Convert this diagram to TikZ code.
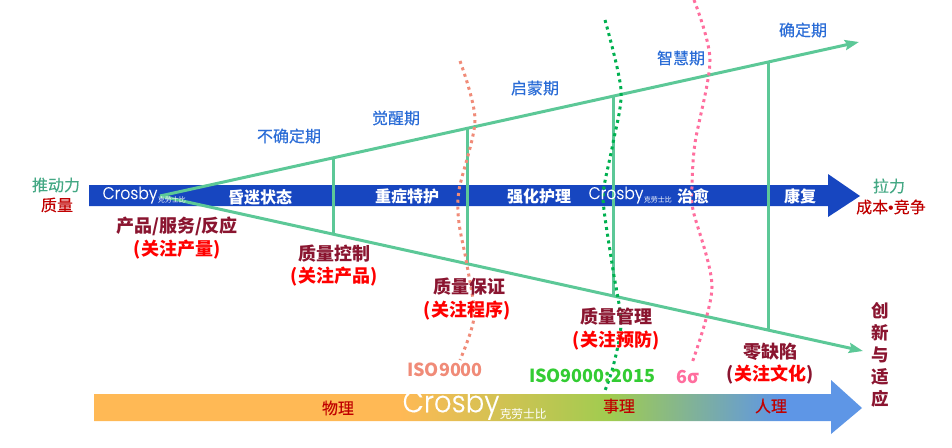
\documentclass[tikz,border=0pt]{standalone}
\usepackage{fontspec}
\setmainfont{Noto Sans CJK SC}
\newfontfamily\medfont[FakeBold=0.25]{Noto Sans CJK SC}
\newfontfamily\logofont[FakeStretch=0.92,FakeBold=0.3]{Poppins Light}
\newfontfamily\dotfont{Liberation Sans}
\usepackage{xcolor}
\usetikzlibrary{arrows.meta,positioning}
\definecolor{funnelgreen}{HTML}{5CC897}
\definecolor{barblue}{HTML}{1746C0}
\definecolor{phaseblue}{HTML}{2A6CD6}
\definecolor{stagered}{HTML}{8A1530}
\definecolor{pullgreen}{HTML}{44A884}
\definecolor{darkred}{HTML}{C00000}
\definecolor{isosalmon}{HTML}{F08B78}
\definecolor{isogreen}{HTML}{00B050}
\definecolor{isolabel}{HTML}{33CC33}
\definecolor{sigmapink}{HTML}{FF6E9E}
\definecolor{bandA}{HTML}{FFB955}
\definecolor{bandB}{HTML}{A0CC50}
\definecolor{bandC}{HTML}{5E96E6}
\pgfdeclarehorizontalshading{bandshade}{100bp}{
    color(0bp)=(bandA);
    color(44.9bp)=(bandA);
    color(58.6bp)=(bandB);
    color(69.7bp)=(bandC);
    color(100bp)=(bandC)}
\newcommand{\fs}[1]{\fontsize{#1}{#1}\selectfont}
\tikzset{
    every node/.style={inner sep=0pt, align=center},
    funnel/.style={line width=3pt, draw=funnelgreen},
    funnelarrow/.style={funnel, -{Stealth[length=14pt,width=10pt,inset=2pt]}},
    rung/.style={line width=3pt, draw=funnelgreen},
    dotline/.style={line width=3pt, dash pattern=on 3pt off 3.8pt},
    phase/.style={font=\medfont\fs{16}, text=phaseblue},
    bartext/.style={font=\fs{16}\bfseries, text=white},
    logo/.style={font=\logofont\fs{17}, text=white},
    logosub/.style={font=\fs{7}, text=white},
    stage/.style={font=\fs{18}\bfseries, text=stagered},
    focus/.style={font=\fs{18}\bfseries, text=red, yshift=-1.5pt},
    bandtext/.style={font=\medfont\fs{16}, text=darkred},
    iso/.style={font=\fs{18}\bfseries, yshift=-1pt},
}
\begin{document}
\begin{tikzpicture}[x=1pt,y=-1pt]
    \useasboundingbox (0,0) rectangle (952,447);
    % Bars
    \fill[barblue] (89,185) -- (828,185) -- (828,174) -- (860,196) -- (828,217) -- (828,206) -- (89,206) -- cycle;
    \shade[shading=bandshade] (94,394) -- (831,394) -- (831,380) -- (862,408) -- (831,434) -- (831,421) -- (94,421) -- cycle;
    % Funnel
    \coordinate (root) at (160,196);
    \coordinate (uptip) at (859,42);
    \coordinate (downtip) at (863,351);
    \coordinate (upa) at (333,157.5);
    \coordinate (upb) at (467,127.5);
    \coordinate (upc) at (613,96);
    \coordinate (upd) at (768,61.5);
    \coordinate (downa) at (333,234);
    \coordinate (downb) at (467,264);
    \coordinate (downc) at (613,296);
    \coordinate (downd) at (768,330);
    \draw[funnelarrow] (root) -- (uptip);
    \draw[funnelarrow] (root) -- (downtip);
    \foreach \rungname in {a,b,c,d}
        \draw[rung] (up\rungname) -- (down\rungname);
    % Dotted curves
    \draw[dotline, isosalmon] plot[smooth] coordinates {(460,61) (475,120) (459,190) (459,223) (467,265) (474,317) (460,360)};
    \draw[dotline, isogreen] plot[smooth] coordinates {(605,20) (621,90) (613,143) (604,187) (604,210) (613,270) (621,323) (613,367) (604,393)};
    \draw[dotline, sigmapink] plot[smooth] coordinates {(694,0) (710,60) (695,143) (692,187) (693,210) (712,287) (692,363)};
    % Side labels
    \node[font=\medfont\fs{16}, text=pullgreen] (pushlabel) at (56,185) {推动力};
    \node[font=\medfont\fs{16}, text=darkred] (qualitylabel) at (57,205) {质量};
    \node[font=\medfont\fs{16}, text=pullgreen] (pulllabel) at (889,186) {拉力};
    \node[font=\medfont\fs{16}, text=darkred] (costlabel) at (891,207) {成本{\dotfont •}竞争};
    \node[stage, font=\fontsize{17.5}{22}\selectfont\bfseries] (innovlabel) at (880,355) {创\\新\\与\\适\\应};
    % Phases
    \node[phase] (phasea) at (289,136) {不确定期};
    \node[phase] (phaseb) at (396,118) {觉醒期};
    \node[phase] (phasec) at (535,88) {启蒙期};
    \node[phase] (phased) at (681,58) {智慧期};
    \node[phase] (phasee) at (803,30) {确定期};
    % Bar texts
    \node[logo] (logoa) at (130,195) {Crosby};
    \node[logosub, right=0pt of logoa.east, yshift=-5pt] (logosuba) {克劳士比};
    \node[bartext] (bara) at (260,197) {昏迷状态};
    \node[bartext] (barb) at (407,196) {重症特护};
    \node[bartext] (barc) at (539,196) {强化护理};
    \node[logo] (logob) at (616,195) {Crosby};
    \node[logosub, right=0pt of logob.east, yshift=-5pt] (logosubb) {克劳士比};
    \node[bartext] (bard) at (693,196) {治愈};
    \node[bartext] (bare) at (800,196) {康复};
    % Stages
    \node[stage] (stagea) at (177,226) {产品/服务/反应};
    \node[focus] (focusa) at (177,248) {(关注产量)};
    \node[stage] (stageb) at (334,254) {质量控制};
    \node[focus] (focusb) at (334,275) {(关注产品)};
    \node[stage] (stagec) at (469,287) {质量保证};
    \node[focus] (focusc) at (467,309) {(关注程序)};
    \node[stage] (staged) at (616,317) {质量管理};
    \node[focus] (focusd) at (616,339) {(关注预防)};
    \node[stage] (stagee) at (770,352) {零缺陷};
    \node[focus] (focuse) at (770,373) {{\color{stagered}(}关注文化{\color{stagered})}};
    % Standards
    \node[iso, text=isosalmon] (isoa) at (445,369) {ISO9000};
    \node[iso, text=isolabel] (isob) at (592,375) {ISO9000:2015};
    \node[iso, text=sigmapink] (sixsigma) at (688,376) {6σ};
    % Band texts
    \node[bandtext] (banda) at (338,408) {物理};
    \node[logo, font=\logofont\fs{30}] (logoc) at (451,405) {Crosby};
    \node[logosub, font=\fs{11.7}, right=0pt of logoc.east, yshift=-9pt] (logosubc) {克劳士比};
    \node[bandtext] (bandb) at (619,406) {事理};
    \node[bandtext] (bandc) at (771,406) {人理};
\end{tikzpicture}
\end{document}
